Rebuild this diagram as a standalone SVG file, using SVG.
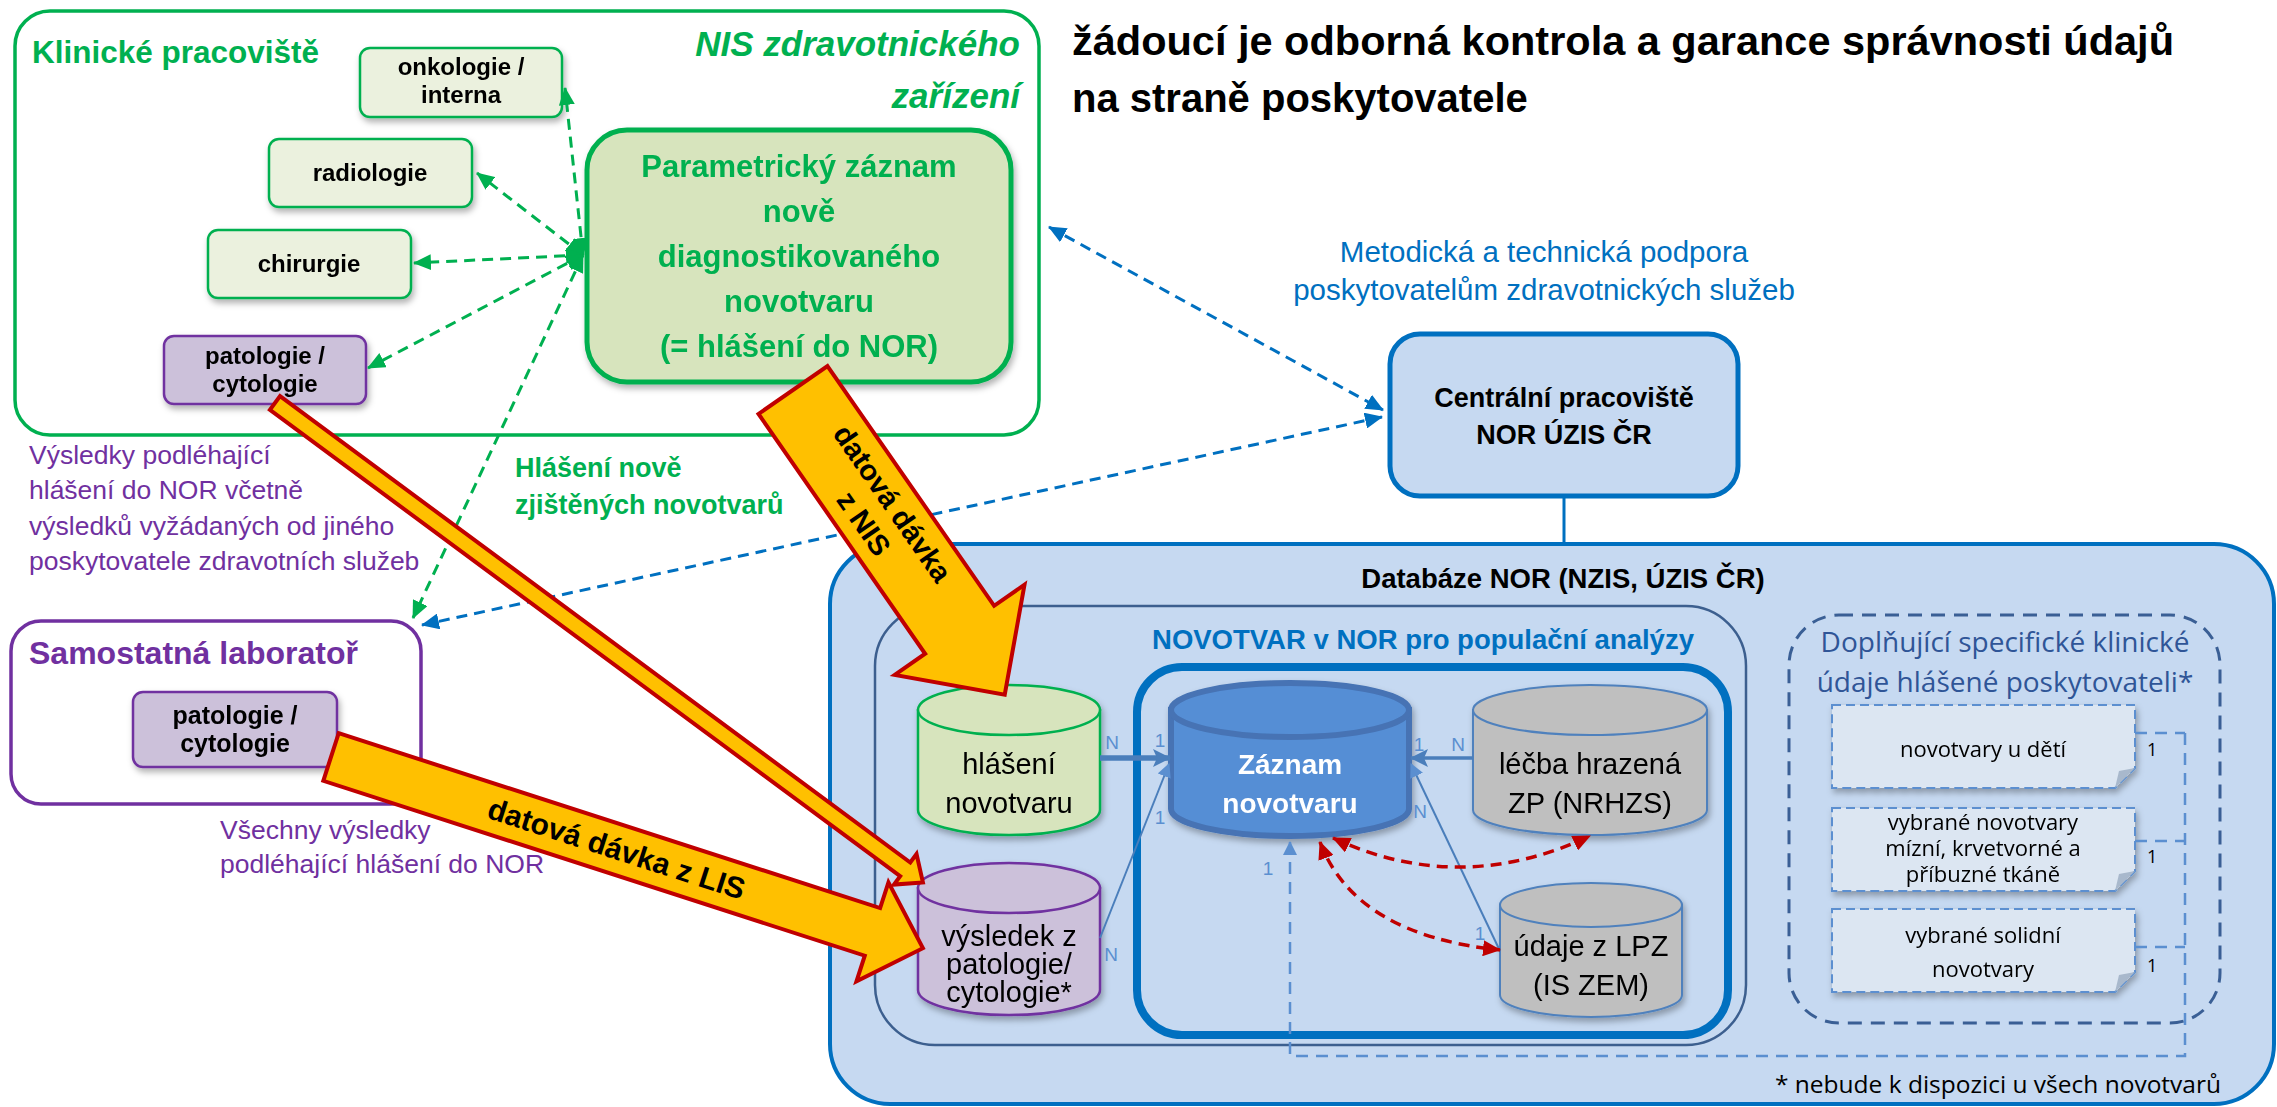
<svg xmlns="http://www.w3.org/2000/svg" width="2277" height="1107" viewBox="0 0 2277 1107">
<style>
text{font-family:"Liberation Sans",Arial,sans-serif}
.os{font-family:"Open Sans","Liberation Sans",sans-serif}
.b{font-weight:bold}
.c{text-anchor:middle}
.green{fill:#00B050}
.purple{fill:#7030A0}
.blue{fill:#0070C0}
.lbl{fill:#5B8FD0;font-size:19px}
.smallbox{fill:#EBF1DE;stroke:#00B050;stroke-width:2.5}
.patbox{fill:#CCC1DA;stroke:#7030A0;stroke-width:2.5}
.gdash{stroke:#00B050;stroke-width:3;stroke-dasharray:11 7;fill:none}
.bdash{stroke:#0070C0;stroke-width:3;stroke-dasharray:11 7;fill:none}
.rdash{stroke:#C00000;stroke-width:3.5;stroke-dasharray:11 7;fill:none}
.steel{stroke:#4A7EBB;fill:none}
.note{fill:#DCE6F2;stroke:#5B8FD0;stroke-width:2;stroke-dasharray:9 5}
.fold{fill:#A8B8CC}
.yarrow{fill:#FFC000;stroke:#C00000;stroke-width:4;stroke-linejoin:miter}
</style>
<defs>
<filter id="sh" x="-10%" y="-10%" width="130%" height="140%">
<feDropShadow dx="2" dy="4" stdDeviation="3" flood-color="#000" flood-opacity="0.3"/>
</filter>
<marker id="mg" markerUnits="userSpaceOnUse" markerWidth="18" markerHeight="16" refX="17" refY="8" orient="auto-start-reverse"><path d="M0,0 L18,8 L0,16 z" fill="#00B050"/></marker>
<marker id="mb" markerUnits="userSpaceOnUse" markerWidth="18" markerHeight="16" refX="17" refY="8" orient="auto-start-reverse"><path d="M0,0 L18,8 L0,16 z" fill="#0070C0"/></marker>
<marker id="mr" markerUnits="userSpaceOnUse" markerWidth="18" markerHeight="16" refX="17" refY="8" orient="auto-start-reverse"><path d="M0,0 L18,8 L0,16 z" fill="#C00000"/></marker>
<marker id="ms" markerUnits="userSpaceOnUse" markerWidth="18" markerHeight="18" refX="17" refY="9" orient="auto"><path d="M0,0 L18,9 L0,18 L4,9 z" fill="#4A7EBB"/></marker>
<marker id="ms2" markerUnits="userSpaceOnUse" markerWidth="14" markerHeight="14" refX="13" refY="7" orient="auto"><path d="M0,0 L14,7 L0,14 z" fill="#5B8FD0"/></marker>
</defs>

<rect width="2277" height="1107" fill="#FFFFFF"/>

<!-- NIS / Klinické pracoviště -->
<g id="nis">
<rect x="15" y="11" width="1024" height="424" rx="35" fill="#FFFFFF" stroke="#00B050" stroke-width="3.5"/>
<text x="32" y="63" class="b green" font-size="31.5">Klinické pracoviště</text>
<text x="1020" y="56" class="b green" font-size="35" font-style="italic" text-anchor="end">NIS zdravotnického</text>
<text x="1020" y="108" class="b green" font-size="35" font-style="italic" text-anchor="end">zařízení</text>
</g>
<g id="onkologie" filter="url(#sh)">
<rect x="360" y="48" width="202" height="69" rx="10" class="smallbox"/>
<text x="461" y="75" class="b c" font-size="24">onkologie /</text>
<text x="461" y="103" class="b c" font-size="24">interna</text>
</g>
<g id="radiologie" filter="url(#sh)">
<rect x="269" y="139" width="203" height="68" rx="10" class="smallbox"/>
<text x="370" y="181" class="b c" font-size="24">radiologie</text>
</g>
<g id="chirurgie" filter="url(#sh)">
<rect x="208" y="230" width="203" height="68" rx="10" class="smallbox"/>
<text x="309" y="272" class="b c" font-size="24">chirurgie</text>
</g>
<g id="patologie-klinika" filter="url(#sh)">
<rect x="164" y="336" width="202" height="68" rx="10" class="patbox"/>
<text x="265" y="364" class="b c" font-size="24">patologie /</text>
<text x="265" y="392" class="b c" font-size="24">cytologie</text>
</g>
<g id="parametricky" filter="url(#sh)">
<rect x="587" y="130" width="424" height="252" rx="40" fill="#D7E4BD" stroke="#00B050" stroke-width="5"/>
<text x="799" y="177" class="b c green" font-size="31">Parametrický záznam</text>
<text x="799" y="222" class="b c green" font-size="31">nově</text>
<text x="799" y="267" class="b c green" font-size="31">diagnostikovaného</text>
<text x="799" y="312" class="b c green" font-size="31">novotvaru</text>
<text x="799" y="357" class="b c green" font-size="31">(= hlášení do NOR)</text>
</g>

<!-- free texts -->
<g id="vysledky-text">
<text x="29" y="464" class="purple" font-size="26.5">Výsledky podléhající</text>
<text x="29" y="499" class="purple" font-size="26.5">hlášení do NOR včetně</text>
<text x="29" y="535" class="purple" font-size="26.5">výsledků vyžádaných od jiného</text>
<text x="29" y="570" class="purple" font-size="26.5">poskytovatele zdravotních služeb</text>
</g>
<g id="hlaseni-text">
<text x="515" y="477" class="b green" font-size="27">Hlášení nově</text>
<text x="515" y="514" class="b green" font-size="27">zjištěných novotvarů</text>
</g>
<g id="title">
<text x="1072" y="55" class="b" font-size="41" textLength="1102" lengthAdjust="spacingAndGlyphs">žádoucí je odborná kontrola a garance správnosti údajů</text>
<text x="1072" y="112" class="b" font-size="40">na straně poskytovatele</text>
</g>
<g id="metodicka-text">
<text x="1544" y="262" class="c blue" font-size="29.5">Metodická a technická podpora</text>
<text x="1544" y="300" class="c blue" font-size="29.5">poskytovatelům zdravotnických služeb</text>
</g>

<!-- Samostatná laboratoř -->
<g id="laborator">
<rect x="11" y="621" width="410" height="183" rx="30" fill="#FFFFFF" stroke="#7030A0" stroke-width="3.5"/>
<text x="29" y="664" class="b purple" font-size="32">Samostatná laboratoř</text>
</g>
<g id="patologie-lab" filter="url(#sh)">
<rect x="133" y="692" width="204" height="75" rx="10" class="patbox"/>
<text x="235" y="724" class="b c" font-size="25">patologie /</text>
<text x="235" y="752" class="b c" font-size="25">cytologie</text>
</g>
<g id="vsechny-text">
<text x="220" y="839" class="purple" font-size="26.5">Všechny výsledky</text>
<text x="220" y="873" class="purple" font-size="26.5">podléhající hlášení do NOR</text>
</g>

<!-- Centrální pracoviště -->
<g id="centralni">
<rect x="1390" y="334" width="348" height="162" rx="30" fill="#C6D9F1" stroke="#0070C0" stroke-width="5"/>
<text x="1564" y="407" class="b c" font-size="27">Centrální pracoviště</text>
<text x="1564" y="444" class="b c" font-size="27">NOR ÚZIS ČR</text>
</g>

<!-- Databáze NOR -->
<g id="databaze">
<rect x="830" y="544" width="1444" height="560" rx="60" fill="#C6D9F1" stroke="#0070C0" stroke-width="4"/>
<text x="1563" y="588" class="b c" font-size="27.5">Databáze NOR (NZIS, ÚZIS ČR)</text>
</g>
<g id="novotvar-nor">
<rect x="875" y="606" width="871" height="439" rx="60" fill="none" stroke="#3C5F8F" stroke-width="2.5"/>
<text x="1423" y="649" class="b c blue" font-size="27.5">NOVOTVAR v NOR pro populační analýzy</text>
</g>
<g id="zaznam-frame">
<rect x="1137" y="667" width="591" height="368" rx="45" fill="none" stroke="#0070C0" stroke-width="8"/>
</g>

<!-- cylinders -->
<g id="hlaseni-novotvaru" filter="url(#sh)">
<path d="M918,710 V810 A91,25 0 0 0 1100,810 V710 Z" fill="#D7E4BD" stroke="#00B050" stroke-width="2.5"/>
<ellipse cx="1009" cy="710" rx="91" ry="25" fill="#D7E4BD" stroke="#00B050" stroke-width="2.5"/>
<text x="1009" y="774" class="c" font-size="29">hlášení</text>
<text x="1009" y="813" class="c" font-size="29">novotvaru</text>
</g>
<g id="vysledek" filter="url(#sh)">
<path d="M918,888 V990 A91,25 0 0 0 1100,990 V888 Z" fill="#CCC1DA" stroke="#7030A0" stroke-width="2.5"/>
<ellipse cx="1009" cy="888" rx="91" ry="25" fill="#CCC1DA" stroke="#7030A0" stroke-width="2.5"/>
<text x="1009" y="946" class="c" font-size="29">výsledek z</text>
<text x="1009" y="974" class="c" font-size="29">patologie/</text>
<text x="1009" y="1002" class="c" font-size="29">cytologie*</text>
</g>
<g id="zaznam" filter="url(#sh)">
<path d="M1171,710 V809 A119,27 0 0 0 1409,809 V710 Z" fill="#558ED5" stroke="#4673B4" stroke-width="6"/>
<ellipse cx="1290" cy="710" rx="119" ry="27" fill="#558ED5" stroke="#4673B4" stroke-width="6"/>
<text x="1290" y="774" class="b c" font-size="28" fill="#FFFFFF">Záznam</text>
<text x="1290" y="813" class="b c" font-size="28" fill="#FFFFFF">novotvaru</text>
</g>
<g id="lecba" filter="url(#sh)">
<path d="M1473,710 V810 A117,25 0 0 0 1707,810 V710 Z" fill="#BFBFBF" stroke="#4F81BD" stroke-width="2"/>
<ellipse cx="1590" cy="710" rx="117" ry="25" fill="#BFBFBF" stroke="#4F81BD" stroke-width="2"/>
<text x="1590" y="774" class="c" font-size="29">léčba hrazená</text>
<text x="1590" y="813" class="c" font-size="29">ZP (NRHZS)</text>
</g>
<g id="udaje-lpz" filter="url(#sh)">
<path d="M1500,905 V995 A91,22 0 0 0 1682,995 V905 Z" fill="#BFBFBF" stroke="#4F81BD" stroke-width="2"/>
<ellipse cx="1591" cy="905" rx="91" ry="22" fill="#BFBFBF" stroke="#4F81BD" stroke-width="2"/>
<text x="1591" y="956" class="c" font-size="29">údaje z LPZ</text>
<text x="1591" y="995" class="c" font-size="29">(IS ZEM)</text>
</g>

<!-- Doplňující údaje -->
<g id="doplnujici">
<rect x="1789" y="615" width="431" height="408" rx="50" fill="none" stroke="#3A5F95" stroke-width="3" stroke-dasharray="14 9"/>
<text x="2005" y="652" class="os c" font-size="28" fill="#2F5597">Doplňující specifické klinické</text>
<text x="2005" y="692" class="os c" font-size="28" fill="#2F5597">údaje hlášené poskytovateli*</text>
</g>
<g id="note-deti" filter="url(#sh)">
<path d="M1832,705 H2135 V768 L2115,788 H1832 Z" class="note"/>
<path d="M2115,788 L2119,771 L2135,768 Z" class="fold"/>
<text x="1983" y="757" class="os c" font-size="22">novotvary u dětí</text>
</g>
<g id="note-mizni" filter="url(#sh)">
<path d="M1832,808 H2135 V871 L2115,891 H1832 Z" class="note"/>
<path d="M2115,891 L2119,874 L2135,871 Z" class="fold"/>
<text x="1983" y="830" class="os c" font-size="22">vybrané novotvary</text>
<text x="1983" y="856" class="os c" font-size="22">mízní, krvetvorné a</text>
<text x="1983" y="882" class="os c" font-size="22">příbuzné tkáně</text>
</g>
<g id="note-solidni" filter="url(#sh)">
<path d="M1832,909 H2135 V972 L2115,992 H1832 Z" class="note"/>
<path d="M2115,992 L2119,975 L2135,972 Z" class="fold"/>
<text x="1983" y="943" class="os c" font-size="22">vybrané solidní</text>
<text x="1983" y="977" class="os c" font-size="22">novotvary</text>
</g>
<g id="poznamka">
<text x="2221" y="1093" class="os" font-size="24.5" text-anchor="end">* nebude k dispozici u všech novotvarů</text>
</g>

<!-- connectors -->
<g id="connectors">
<line x1="583" y1="255" x2="565" y2="88" class="gdash" marker-start="url(#mg)" marker-end="url(#mg)"/>
<line x1="583" y1="255" x2="477" y2="173" class="gdash" marker-start="url(#mg)" marker-end="url(#mg)"/>
<line x1="583" y1="255" x2="414" y2="263" class="gdash" marker-start="url(#mg)" marker-end="url(#mg)"/>
<line x1="583" y1="255" x2="368" y2="368" class="gdash" marker-start="url(#mg)" marker-end="url(#mg)"/>
<line x1="583" y1="255" x2="413" y2="618" class="gdash" marker-start="url(#mg)" marker-end="url(#mg)"/>
<line x1="1049" y1="227" x2="1383" y2="410" class="bdash" marker-start="url(#mb)" marker-end="url(#mb)"/>
<line x1="1382" y1="417" x2="422" y2="625" class="bdash" marker-start="url(#mb)" marker-end="url(#mb)"/>
<line x1="1564" y1="496" x2="1564" y2="544" stroke="#0070C0" stroke-width="3"/>
<line x1="1100" y1="758" x2="1170" y2="758" class="steel" stroke-width="5.5" marker-end="url(#ms)"/>
<line x1="1100" y1="938" x2="1169" y2="764" class="steel" stroke-width="2" marker-end="url(#ms2)"/>
<line x1="1473" y1="758" x2="1411" y2="758" class="steel" stroke-width="3.5" marker-end="url(#ms)"/>
<line x1="1500" y1="951" x2="1411" y2="764" class="steel" stroke-width="2" marker-end="url(#ms2)"/>
<path d="M1333,838 Q1460,897 1590,836" class="rdash" marker-start="url(#mr)" marker-end="url(#mr)"/>
<path d="M1320,842 Q1355,935 1500,950" class="rdash" marker-start="url(#mr)" marker-end="url(#mr)"/>
<path d="M2135,733 H2185 M2135,841 H2185 M2135,947 H2185 M2185,733 V1056 H1290 V842" stroke="#5B8FD0" stroke-width="2.5" stroke-dasharray="12 8" fill="none" marker-end="url(#ms2)"/>
<text x="1112" y="749" class="lbl c">N</text>
<text x="1160" y="747" class="lbl c">1</text>
<text x="1160" y="824" class="lbl c">1</text>
<text x="1111" y="961" class="lbl c">N</text>
<text x="1419" y="751" class="lbl c">1</text>
<text x="1458" y="751" class="lbl c">N</text>
<text x="1420" y="818" class="lbl c">N</text>
<text x="1480" y="940" class="lbl c">1</text>
<text x="1268" y="875" class="lbl c">1</text>
<text x="2147" y="756" class="os" font-size="18">1</text>
<text x="2147" y="863" class="os" font-size="18">1</text>
<text x="2147" y="972" class="os" font-size="18">1</text>
</g>

<!-- data batch arrows -->
<g id="arrow-klinika-patologie" transform="translate(275,403) rotate(36.5)">
<path d="M0,-8.5 H784 V-19 L806,0 L784,19 V8.5 H0 Z" class="yarrow" stroke-width="3.5"/>
</g>
<g id="arrow-nis" transform="translate(793,390) rotate(55.2)">
<path d="M0,-42 H292 V-79 L371,0 L292,79 V42 H0 Z" class="yarrow"/>
<text x="150" y="-7" class="b c" font-size="29">datová dávka</text>
<text x="150" y="28" class="b c" font-size="29">z NIS</text>
</g>
<g id="arrow-lis" transform="translate(331,757) rotate(17.9)">
<path d="M0,-25 H569 V-52 L622,0 L569,52 V25 H0 Z" class="yarrow"/>
<text x="300" y="10" class="b c" font-size="30">datová dávka z LIS</text>
</g>
</svg>
